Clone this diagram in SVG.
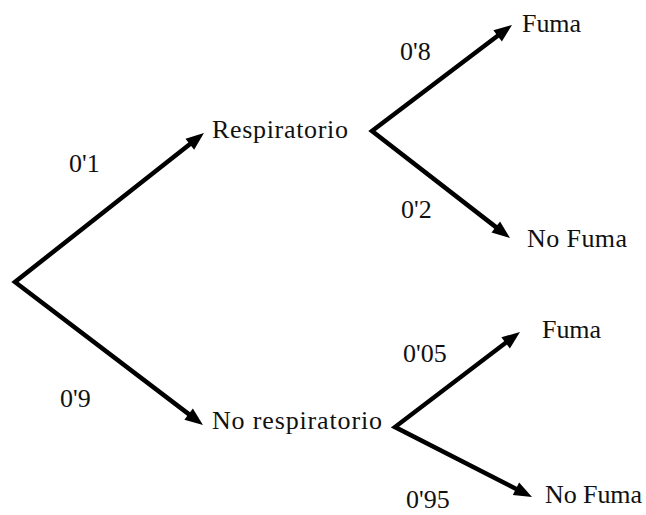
<svg xmlns="http://www.w3.org/2000/svg" width="646" height="515" viewBox="0 0 646 515">
<style>
.t{font-family:"Liberation Serif","Times New Roman",serif;font-size:26px;fill:#111}
.e{fill:none;stroke:#000;stroke-width:4.5;stroke-linejoin:miter;stroke-miterlimit:10;marker-start:url(#ah);marker-end:url(#ah)}
</style>
<defs>
<marker id="ah" markerUnits="userSpaceOnUse" markerWidth="18" markerHeight="14" refX="8" refY="7" orient="auto-start-reverse" overflow="visible">
<path d="M0,0 L18,7 L0,14 z" fill="#000"/>
</marker>
</defs>
<rect width="646" height="515" fill="#fff"/>
<g id="connectors">
<path class="e" d="M196.1,139.2 L15,282 L195,418.9"/>
<path class="e" d="M504,31 L372,131 L502.1,231.9"/>
<path class="e" d="M512,338 L395,427 L523.1,492.4"/>
<text class="t" x="69" y="172">0'1</text>
<text class="t" x="60" y="407">0'9</text>
<text class="t" x="400" y="60">0'8</text>
<text class="t" x="401" y="218">0'2</text>
<text class="t" x="403" y="362">0'05</text>
<text class="t" x="406" y="508">0'95</text>
</g>
<g id="n-resp"><text class="t" x="212" y="138" textLength="136">Respiratorio</text></g>
<g id="n-noresp"><text class="t" x="212" y="429" textLength="170">No respiratorio</text></g>
<g id="n-fuma1"><text class="t" x="522" y="32" textLength="59">Fuma</text></g>
<g id="n-nofuma1"><text class="t" x="527" y="247" textLength="100">No Fuma</text></g>
<g id="n-fuma2"><text class="t" x="542" y="338" textLength="59">Fuma</text></g>
<g id="n-nofuma2"><text class="t" x="545" y="503" textLength="97">No Fuma</text></g>
</svg>
